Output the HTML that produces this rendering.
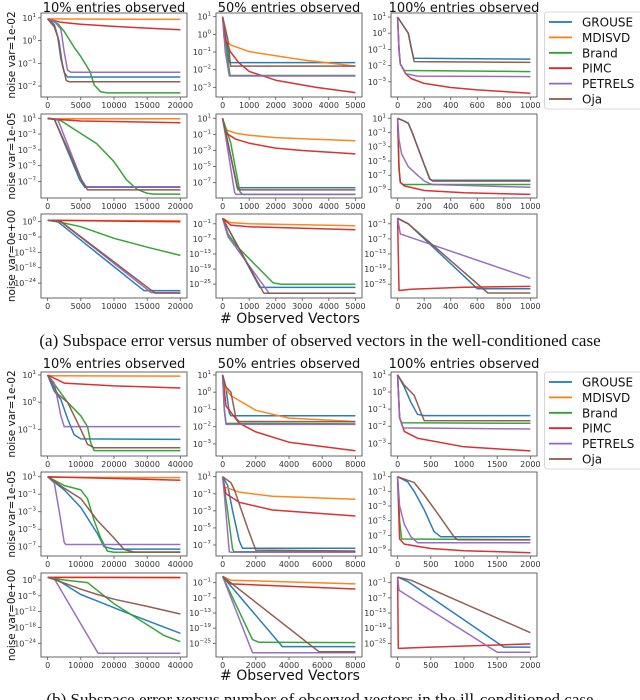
<!DOCTYPE html>
<html><head><meta charset="utf-8">
<style>
html,body{margin:0;padding:0;background:#fff;}
svg{display:block;font-family:"DejaVu Sans","Liberation Sans",sans-serif;}
.cap{font-family:"Liberation Serif","DejaVu Serif",serif;}
</style></head>
<body>
<svg id="fig" width="640" height="700" viewBox="0 0 640 700"></svg>
<script>
// ===== data: series as [observed vectors, log10(subspace error)] =====
const seriesNames = ["GROUSE","MDISVD","Brand","PIMC","PETRELS","Oja"];
const seriesColors = ["#1f77b4","#ff7f0e","#2ca02c","#d62728","#9467bd","#8c564b"];
const colTitles = ["10% entries observed","50% entries observed","100% entries observed"];
const rowLabels = ["noise var=1e-02","noise var=1e-05","noise var=0e+00"];
const xMaxA = [20000,5000,1000];
const xMaxB = [40000,8000,2000];
const xTicksA = [[0,5000,10000,15000,20000],[0,1000,2000,3000,4000,5000],[0,200,400,600,800,1000]];
const xTicksB = [[0,10000,20000,30000,40000],[0,2000,4000,6000,8000],[0,500,1000,1500,2000]];

// panel A (well-conditioned)
const a11 = {GROUSE:[[0,0.95],[1000,0.7],[1500,0.2],[2000,-0.8],[2500,-1.4],[3000,-1.6],[20000,-1.6]],
 MDISVD:[[0,0.95],[20000,0.93]],
 Brand:[[0,0.95],[1500,0.75],[2500,0.4],[4000,-0.3],[5000,-0.7],[6400,-1.37],[7000,-1.95],[8000,-2.25],[9000,-2.3],[20000,-2.3]],
 PIMC:[[0,0.95],[2000,0.8],[5000,0.72],[10000,0.62],[20000,0.47]],
 PETRELS:[[0,0.95],[1000,0.85],[2000,0.5],[2500,-0.5],[3000,-1.3],[3500,-1.39],[20000,-1.39]],
 Oja:[[0,0.95],[1000,0.6],[1700,0],[2200,-1],[2800,-1.75],[3200,-1.81],[20000,-1.81]]};
const a12 = {GROUSE:[[0,1],[150,-0.5],[250,-1.6],[5000,-1.6]],
 MDISVD:[[0,1],[50,-0.2],[300,-0.6],[1000,-0.98],[3000,-1.45],[5000,-1.8]],
 Brand:[[0,1],[200,-1.5],[280,-2.33],[5000,-2.33]],
 PIMC:[[0,1],[100,-0.3],[300,-1.0],[600,-1.6],[1000,-2.1],[2000,-2.6],[3500,-3.0],[5000,-3.3]],
 PETRELS:[[0,1],[100,-1],[250,-2.36],[5000,-2.36]],
 Oja:[[0,1],[200,-0.3],[300,-1.8],[5000,-1.8]]};
const a13 = {GROUSE:[[0,1],[40,0.5],[80,0],[100,-0.8],[120,-1.55],[1000,-1.6]],
 MDISVD:[],
 Brand:[[0,1],[10,-1],[20,-1.9],[50,-2.3],[1000,-2.37]],
 PIMC:[[0,1],[10,-1],[20,-1.9],[60,-2.5],[100,-2.8],[200,-3.1],[400,-3.35],[600,-3.5],[1000,-3.71]],
 PETRELS:[[0,1],[10,-1],[20,-1.9],[60,-2.5],[150,-2.65],[1000,-2.68]],
 Oja:[[0,1],[40,0.5],[80,0],[100,-0.8],[125,-1.75],[1000,-1.8]]};
const a21 = {GROUSE:[[0,1],[1000,0.9],[4850,-6.8],[5600,-7.73],[20000,-7.73]],
 MDISVD:[[0,0.95],[20000,0.93]],
 Brand:[[0,1],[2000,0.7],[4000,-0.4],[7400,-2.2],[10000,-4.5],[11900,-6.8],[13500,-8],[15000,-8.5],[16000,-8.6],[20000,-8.6]],
 PIMC:[[0,0.95],[5000,0.65],[20000,0.44]],
 PETRELS:[[0,1],[1500,0.9],[5100,-6.8],[5800,-7.66],[20000,-7.66]],
 Oja:[[0,1],[1000,0.9],[5100,-6.8],[6000,-8.07],[20000,-8.07]]};
const a22 = {GROUSE:[[0,1],[100,-0.5],[550,-7.62],[5000,-7.62]],
 MDISVD:[[0,1],[80,-0.4],[500,-0.85],[1000,-1.1],[2000,-1.4],[3000,-1.55],[5000,-1.78]],
 Brand:[[0,1],[300,-2],[650,-8.1],[750,-8.45],[5000,-8.45]],
 PIMC:[[0,1],[100,-0.8],[500,-1.6],[1000,-2.1],[2000,-2.7],[3000,-3.0],[5000,-3.43]],
 PETRELS:[[0,1],[100,-1],[450,-8.2],[500,-8.45],[5000,-8.45]],
 Oja:[[0,1],[100,-0.5],[580,-7.9],[5000,-7.9]]};
const a23 = {GROUSE:[[0,1],[50,0.6],[80,0.3],[110,-1],[150,-3],[200,-5.5],[240,-7.5],[260,-7.7],[1000,-7.7]],
 MDISVD:[],
 Brand:[[0,1],[10,-6],[20,-8],[40,-8.3],[1000,-8.3]],
 PIMC:[[0,1],[10,-6],[20,-8],[50,-8.5],[200,-9.15],[500,-9.45],[1000,-9.7]],
 PETRELS:[[0,1],[10,-2],[30,-4],[80,-5.8],[150,-7],[200,-7.8],[260,-8.3],[1000,-8.7]],
 Oja:[[0,1],[50,0.6],[80,0.3],[110,-1],[150,-3],[200,-5.5],[245,-7.6],[265,-7.83],[1000,-7.83]]};
const a31 = {GROUSE:[[0,0.5],[1500,0],[14500,-26.9],[20000,-26.9]],
 MDISVD:[[0,0.5],[20000,0.3]],
 Brand:[[0,0.5],[2000,-0.3],[5000,-2],[10000,-6.5],[15000,-10],[20000,-13.2]],
 PIMC:[[0,0.5],[20000,-0.1]],
 PETRELS:[[0,0.5],[2000,0],[15600,-27.7],[20000,-27.7]],
 Oja:[[0,0.5],[2000,0],[16200,-27.9],[20000,-27.9]]};
const a32 = {GROUSE:[[0,1.2],[1400,-26.3],[5000,-26.3]],
 MDISVD:[[0,1.2],[300,-0.5],[1000,-1],[5000,-1.8]],
 Brand:[[0,1.2],[200,-5],[500,-9.5],[1900,-24.5],[2200,-25],[5000,-25]],
 PIMC:[[0,1.2],[300,-1.5],[1000,-2.2],[5000,-3.4]],
 PETRELS:[[0,1.2],[200,-6],[1750,-28.6],[5000,-28.6]],
 Oja:[[0,1.2],[1550,-28.6],[5000,-28.6]]};
const a33 = {GROUSE:[[0,1.2],[80,-1],[600,-26.8],[1000,-26.8]],
 MDISVD:[],
 Brand:[],
 PIMC:[[0,1.2],[10,-27.5],[100,-27],[500,-26.2],[1000,-25.9]],
 PETRELS:[[0,1.2],[20,-5],[1000,-22.7]],
 Oja:[[0,1.2],[80,-1],[680,-28.5],[1000,-28.5]]};
// panel B (ill-conditioned)
const b11 = {GROUSE:[[0,1],[2000,0.4],[4000,0.1],[6000,-0.6],[8000,-1.2],[10000,-1.35],[40000,-1.37]],
 MDISVD:[[0,0.97],[40000,0.96]],
 Brand:[[0,1],[3000,0.5],[6000,0],[10000,-0.5],[12000,-0.9],[13000,-1.5],[14000,-1.78],[40000,-1.78]],
 PIMC:[[0,1],[5000,0.7],[20000,0.6],[40000,0.52]],
 PETRELS:[[0,1],[2000,0.7],[4000,-0.5],[5000,-0.9],[40000,-0.9]],
 Oja:[[0,1],[3000,0.3],[6000,0],[10000,-1],[12000,-1.55],[14000,-1.68],[40000,-1.68]]};
const b12 = {GROUSE:[[0,1],[200,0.2],[400,-1.2],[500,-1.37],[8000,-1.37]],
 MDISVD:[[0,1],[100,0.3],[500,-0.2],[2000,-1.05],[4000,-1.5],[8000,-1.7]],
 Brand:[[0,1],[100,-1],[200,-1.8],[8000,-1.84]],
 PIMC:[[0,1],[200,-0.8],[1000,-1.8],[2000,-2.3],[4000,-2.9],[8000,-3.39]],
 PETRELS:[[0,1],[100,-1],[200,-1.87],[8000,-1.87]],
 Oja:[[0,1],[200,0.3],[500,0],[800,-1.5],[1000,-1.7],[8000,-1.72]]};
const b13 = {GROUSE:[[0,1],[100,0.3],[200,-0.6],[300,-1.3],[400,-1.38],[2000,-1.38]],
 MDISVD:[],
 Brand:[[0,1],[30,-1.5],[60,-1.8],[2000,-1.83]],
 PIMC:[[0,1],[30,-1.5],[100,-2.3],[300,-2.7],[1000,-3.2],[2000,-3.44]],
 PETRELS:[[0,1],[30,-1.5],[80,-2.1],[2000,-2.16]],
 Oja:[[0,1],[100,0.4],[250,-0.2],[350,-1.2],[400,-1.67],[2000,-1.68]]};
const b21 = {GROUSE:[[0,1],[5000,-0.5],[10000,-2.5],[15000,-5.5],[17000,-7],[20000,-7.27],[40000,-7.27]],
 MDISVD:[[0,0.95],[40000,0.9]],
 Brand:[[0,1],[5000,0],[10000,-0.5],[12000,-1.5],[14000,-4],[16000,-6],[18000,-7.5],[20000,-7.64],[40000,-7.64]],
 PIMC:[[0,1],[40000,0.6]],
 PETRELS:[[0,1],[2000,0.3],[3500,-3],[5000,-6.5],[5500,-6.75],[40000,-6.75]],
 Oja:[[0,1],[5000,-0.3],[10000,-1.5],[15000,-4],[20000,-6],[23000,-7.3],[26000,-7.6],[40000,-7.6]]};
const b22 = {GROUSE:[[0,1],[300,0],[600,-3],[1000,-6.5],[1200,-7.39],[8000,-7.39]],
 MDISVD:[[0,1],[100,-0.2],[1000,-0.8],[3000,-1.3],[8000,-1.65]],
 Brand:[[0,1],[300,-3],[600,-7.5],[700,-7.8],[8000,-7.8]],
 PIMC:[[0,1],[200,-1],[1000,-2],[3000,-2.9],[8000,-3.6]],
 PETRELS:[[0,1],[100,-1],[400,-7.8],[500,-7.85],[8000,-7.85]],
 Oja:[[0,1],[500,0.3],[700,-0.5],[1500,-5],[2000,-7.6],[8000,-7.7]]};
const b23 = {GROUSE:[[0,1],[150,0.3],[250,-1],[400,-3.5],[550,-6.5],[650,-7.2],[2000,-7.2]],
 MDISVD:[],
 Brand:[[0,1],[30,-5],[60,-7.5],[2000,-7.6]],
 PIMC:[[0,1],[20,-5],[30,-7.5],[100,-8.2],[500,-8.8],[1000,-9.1],[2000,-9.37]],
 PETRELS:[[0,1],[30,-3],[100,-5.5],[200,-7.2],[300,-8.0],[2000,-8.0]],
 Oja:[[0,1],[250,0.2],[400,-1.5],[600,-4],[850,-7.2],[900,-7.6],[2000,-7.63]]};
const b31 = {GROUSE:[[0,1],[3000,0],[10000,-5.5],[15000,-8],[25000,-13],[40000,-20.2]],
 MDISVD:[[0,1],[40000,1]],
 Brand:[[0,1],[5000,0],[12000,-1],[20000,-9],[25000,-13],[30000,-17],[35000,-21],[40000,-23.4]],
 PIMC:[[0,1],[40000,0.9]],
 PETRELS:[[0,1],[2000,0.5],[15200,-27.8],[40000,-27.8]],
 Oja:[[0,1],[2000,0.2],[10000,-3.5],[15000,-5.5],[20000,-7.3],[30000,-10],[40000,-12.9]]};
const b32 = {GROUSE:[[0,1.5],[3600,-26.3],[8000,-26.3]],
 MDISVD:[[0,1.5],[500,0],[8000,-1.5]],
 Brand:[[0,1.5],[1800,-23.5],[2200,-24.6],[8000,-24.7]],
 PIMC:[[0,1.5],[500,-1.5],[8000,-3.5]],
 PETRELS:[[0,1.5],[1800,-28.7],[8000,-28.7]],
 Oja:[[0,1.5],[5800,-28.3],[8000,-28.3]]};
const b33 = {GROUSE:[[0,1.2],[150,-0.5],[1600,-26.5],[2000,-26.5]],
 MDISVD:[],
 Brand:[],
 PIMC:[[0,1.2],[10,-27],[500,-26.5],[2000,-25.2]],
 PETRELS:[[0,1.2],[20,-4],[1500,-28.5],[2000,-28.5]],
 Oja:[[0,1.2],[200,0],[2000,-20.8]]};

// axis configs (log10 limits & tick exponents)
const yLimA = [[[-2.48,1.21],[-3.55,1.21],[-3.94,1.25]],[[-9.09,1.54],[-8.9,1.53],[-10.2,1.6]],[[-29.8,2.96],[-30.5,2.9],[-30.5,2.9]]];
const yTicksA = [[[1,0,-1,-2],[1,0,-1,-2,-3],[1,0,-1,-2,-3]],[[1,-1,-3,-5,-7],[1,-1,-3,-5,-7],[1,-1,-3,-5,-7,-9]],[[0,-6,-12,-18,-24],[-1,-7,-13,-19,-25],[-1,-7,-13,-19,-25]]];
const yLimB = [[[-1.98,1.11],[-3.7,1.17],[-3.74,1.17]],[[-8.06,1.54],[-8.29,1.55],[-9.82,1.64]],[[-29.2,2.65],[-30.4,2.83],[-30.4,2.83]]];
const yTicksB = [[[1,0,-1],[1,0,-1,-2,-3],[1,0,-1,-2,-3]],[[1,-1,-3,-5,-7],[1,-1,-3,-5,-7],[1,-1,-3,-5,-7,-9]],[[0,-6,-12,-18,-24],[-1,-7,-13,-19,-25],[-1,-7,-13,-19,-25]]];

const panelsA = [[a11,a12,a13],[a21,a22,a23],[a31,a32,a33]];
const panelsB = [[b11,b12,b13],[b21,b22,b23],[b31,b32,b33]];

// ===== layout =====
const NS = "http://www.w3.org/2000/svg";
const svg = document.getElementById("fig");
const colX = [41,216,391], colW = 146;
const rowYA = [13,114,214], rowYB = [372,472,573], rowH = 84;

function mk(tag, attrs, parent){
  const e = document.createElementNS(NS, tag);
  for (const k in attrs) e.setAttribute(k, attrs[k]);
  (parent||svg).appendChild(e);
  return e;
}
function fmtNum(v){ return String(v); }

function drawPanel(part, r, c, data, xmax, xticks, ylim, yticks, y0){
  const x0 = colX[c], w = colW, h = rowH;
  const g = mk("g", {});
  
  
  const sx = v => x0 + w*(0.05 + v/xmax)/1.1;
  const sy = l => y0 + h*(ylim[1]-l)/(ylim[1]-ylim[0]);
  const clipId = "clip"+part+r+c;
  const cp = mk("clipPath", {id:clipId}, g);
  mk("rect", {x:x0, y:y0, width:w, height:h}, cp);
  const lines = mk("g", {"clip-path":"url(#"+clipId+")"}, g);
  seriesNames.forEach((name, i) => {
    const pts = data[name];
    if (!pts || !pts.length) return;
    const p = mk("polyline", {points: pts.map(q => sx(q[0]).toFixed(1)+","+sy(q[1]).toFixed(1)).join(" "),
      fill:"none", stroke:seriesColors[i], "stroke-width":1.5, "stroke-linejoin":"round", opacity:0.95}, lines);
    
    
  });
  const fr = mk("rect", {x:x0, y:y0, width:w, height:h, fill:"none", stroke:"#555", "stroke-width":0.9}, g);
  
  
  xticks.forEach(t => {
    const X = sx(t);
    mk("line", {x1:X, x2:X, y1:y0+h, y2:y0+h+3, stroke:"#555", "stroke-width":0.8}, g);
    const tx = mk("text", {x:X, y:y0+h+11, "font-size":8, fill:"#333", "text-anchor":"middle"}, g);
    tx.textContent = fmtNum(t);
    
    
  });
  yticks.forEach(t => {
    const Y = sy(t);
    mk("line", {x1:x0-3, x2:x0, y1:Y, y2:Y, stroke:"#555", "stroke-width":0.8}, g);
    const ty = mk("text", {x:x0-5, y:Y+3, "font-size":8, fill:"#333", "text-anchor":"end"}, g);
    
    
    const base = document.createElementNS(NS, "tspan");
    base.textContent = "10";
    ty.appendChild(base);
    const sup = document.createElementNS(NS, "tspan");
    sup.setAttribute("dy", "-4");
    sup.setAttribute("font-size", "5.5");
    sup.textContent = t < 0 ? "\u2212" + (-t) : String(t);
    ty.appendChild(sup);
  });
}

function drawPart(part, panels, rowY, xMaxes, xTicks, yLims, yTicksArr, titleY, xlabelY){
  for (let r=0;r<3;r++) for (let c=0;c<3;c++)
    drawPanel(part, r, c, panels[r][c], xMaxes[c], xTicks[c], yLims[r][c], yTicksArr[r][c], rowY[r]);
  colTitles.forEach((t,c) => {
    const e = mk("text", {x:colX[c]+colW/2, y:titleY, "font-size":13, fill:"#111", "text-anchor":"middle"});
    e.textContent = t;
    
    
  });
  rowLabels.forEach((t,r) => {
    const cy = rowY[r] + rowH/2;
    const e = mk("text", {x:0, y:0, "font-size":10.5, fill:"#111", "text-anchor":"middle",
      transform:"translate(15,"+cy+") rotate(-90)"});
    e.textContent = t;
    
    
  });
  const xl = mk("text", {x:290, y:xlabelY, "font-size":14, fill:"#111", "text-anchor":"middle"});
  xl.textContent = "# Observed Vectors";
  
  
}

function drawLegend(y0){
  const g = mk("g", {});
  
  
  mk("rect", {x:544.5, y:y0, width:100, height:97, rx:3, fill:"#fff", stroke:"#ccc", "stroke-width":0.8}, g);
  seriesNames.forEach((n,i) => {
    const y = y0 + 10 + i*15.4;
    const l = mk("line", {x1:549, x2:572, y1:y, y2:y, stroke:seriesColors[i], "stroke-width":1.8}, g);
    
    
    const t = mk("text", {x:582, y:y+4.5, "font-size":12, fill:"#111"}, g);
    t.textContent = n;
    
    
  });
}

drawPart("a", panelsA, rowYA, xMaxA, xTicksA, yLimA, yTicksA, 12, 323);
drawPart("b", panelsB, rowYB, xMaxB, xTicksB, yLimB, yTicksB, 368, 680);
drawLegend(12);
drawLegend(372);

const capA = mk("text", {x:320, y:346, "font-size":17, fill:"#111", "text-anchor":"middle", class:"cap"});
capA.textContent = "(a) Subspace error versus number of observed vectors in the well-conditioned case";


const capB = mk("text", {x:320, y:705, "font-size":17, fill:"#111", "text-anchor":"middle", class:"cap"});
capB.textContent = "(b) Subspace error versus number of observed vectors in the ill-conditioned case";


</script>
</body></html>
